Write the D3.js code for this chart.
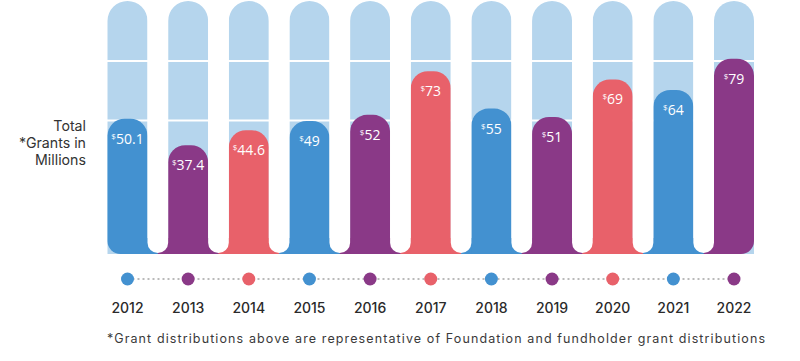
<!DOCTYPE html>
<html>
<head>
<meta charset="utf-8">
<script src="https://cdn.jsdelivr.net/npm/d3@7"></script>
<style>
  body { margin: 0; background: #fff; }
  svg { display: block; }
  .yr { font-family: Inter, sans-serif; font-size: 14px; font-weight: 500; fill: #2a2a2a; }
  .side { font-family: Inter, sans-serif; font-size: 14.2px; fill: #333; }
  .note { font-family: Inter, sans-serif; font-size: 12.5px; fill: #3a3a3a; }
  .val { font-family: "Open Sans", sans-serif; font-size: 14px; fill: #fff; }
</style>
</head>
<body>
<div id="chart"></div>
<script>
// data
const years = ["2012", "2013", "2014", "2015", "2016", "2017", "2018", "2019", "2020", "2021", "2022"];
const grants = [50.1, 37.4, 44.6, 49, 52, 73, 55, 51, 69, 64, 79];
const sideLabel = ["Total", "*Grants in", "Millions"];
const footnote = "*Grant distributions above are representative of Foundation and fundholder grant distributions";

const palette = ["#4391d0", "#8a3987", "#e8616a"];
const lightBlue = "#b5d5ed";

const width = 800, height = 361;
const colW = 40, colTop = 1, bottom = 254;
const dotY = 279, yearY = 313;

let svg = d3.select("#chart").append("svg")
    .attr("width", width)
    .attr("height", height);

let x = d3.scalePoint().domain(years).range([127.5, 734]);
let y = d3.scaleLinear().domain([0, 100]).range([223, 15]);
let color = function (i) { return palette[i % 3]; };

// rounded rect with separate corner radii (tl, tr, br, bl)
function roundRect(x0, y0, x1, y1, tl, tr, br, bl) {
    let p = d3.path();
    p.moveTo(x0 + tl, y0);
    p.arcTo(x1, y0, x1, y1, tr);
    p.arcTo(x1, y1, x0, y1, br);
    p.arcTo(x0, y1, x0, y0, bl);
    p.arcTo(x0, y0, x1, y0, tl);
    p.closePath();
    return p.toString();
}

let data = years.map(function (yr, i) {
    return { year: yr, value: grants[i], i: i };
});
let last = data.length - 1;

// light blue background columns
svg.append("g").selectAll("path")
    .data(data)
    .enter().append("path")
    .attr("d", function (d) {
        let cx = x(d.year);
        return roundRect(cx - colW / 2, colTop, cx + colW / 2, bottom, colW / 2, colW / 2, 0, 0);
    })
    .attr("fill", lightBlue);

// white separators across the columns
[61, 120.5].forEach(function (sy) {
    svg.append("rect")
        .attr("x", x(years[0]) - colW)
        .attr("y", sy - 1)
        .attr("width", x(years[last]) - x(years[0]) + colW * 2)
        .attr("height", 2)
        .attr("fill", "#fff");
});

// bottom joins between bars
let joins = svg.append("g");
for (let i = 0; i < last; i++) {
    let gx0 = x(years[i]) + colW / 2,
        gx1 = x(years[i + 1]) - colW / 2,
        gm = (gx0 + gx1) / 2;
    joins.append("rect")
        .attr("x", gx0 - 1).attr("y", bottom - 16)
        .attr("width", gm - gx0 + 1.5).attr("height", 16)
        .attr("fill", color(i));
    joins.append("rect")
        .attr("x", gm).attr("y", bottom - 16)
        .attr("width", gx1 - gm + 1).attr("height", 16)
        .attr("fill", color(i + 1));
}

// value bars
svg.append("g").selectAll("path")
    .data(data)
    .enter().append("path")
    .attr("d", function (d) {
        let cx = x(d.year);
        return roundRect(cx - colW / 2, y(d.value), cx + colW / 2, bottom, 17, 17,
            d.i === last ? 13 : 0, d.i === 0 ? 13 : 0);
    })
    .attr("fill", function (d) { return color(d.i); });

// white gaps with rounded bottoms
for (let i = 0; i < last; i++) {
    let gx0 = x(years[i]) + colW / 2,
        gx1 = x(years[i + 1]) - colW / 2,
        r = (gx1 - gx0) / 2;
    svg.append("path")
        .attr("d", "M" + gx0 + ",0 L" + gx0 + "," + (bottom - 1 - r) +
            " A" + r + "," + r + " 0 0 0 " + gx1 + "," + (bottom - 1 - r) +
            " L" + gx1 + ",0 Z")
        .attr("fill", "#fff");
}

// value labels
let labels = svg.append("g").selectAll("text")
    .data(data)
    .enter().append("text")
    .attr("class", "val")
    .attr("x", function (d) { return x(d.year); })
    .attr("y", function (d) { return y(d.value) + 25; })
    .attr("text-anchor", "middle");
labels.append("tspan")
    .attr("font-size", "8px")
    .attr("dy", -5)
    .text("$");
labels.append("tspan")
    .attr("dy", 5)
    .text(function (d) { return d.value; });

// dotted timeline
svg.append("line")
    .attr("x1", x(years[0])).attr("x2", x(years[last]))
    .attr("y1", dotY).attr("y2", dotY)
    .attr("stroke", "#777")
    .attr("stroke-width", 1.2)
    .attr("stroke-dasharray", "2,3");

svg.append("g").selectAll("circle")
    .data(data)
    .enter().append("circle")
    .attr("cx", function (d) { return x(d.year); })
    .attr("cy", dotY)
    .attr("r", 6.5)
    .attr("fill", function (d) { return color(d.i); });

// year labels
svg.append("g").selectAll("text")
    .data(data)
    .enter().append("text")
    .attr("class", "yr")
    .attr("x", function (d) { return x(d.year); })
    .attr("y", yearY)
    .attr("text-anchor", "middle")
    .text(function (d) { return d.year; });

// side label
svg.append("g").selectAll("text")
    .data(sideLabel)
    .enter().append("text")
    .attr("class", "side")
    .attr("x", 86)
    .attr("y", function (d, i) { return 131 + i * 17; })
    .attr("text-anchor", "end")
    .text(function (d) { return d; });

// footnote
svg.append("text")
    .attr("class", "note")
    .attr("x", 107)
    .attr("y", 343)
    .attr("textLength", 658)
    .attr("lengthAdjust", "spacing")
    .text(footnote);
</script>
</body>
</html>
